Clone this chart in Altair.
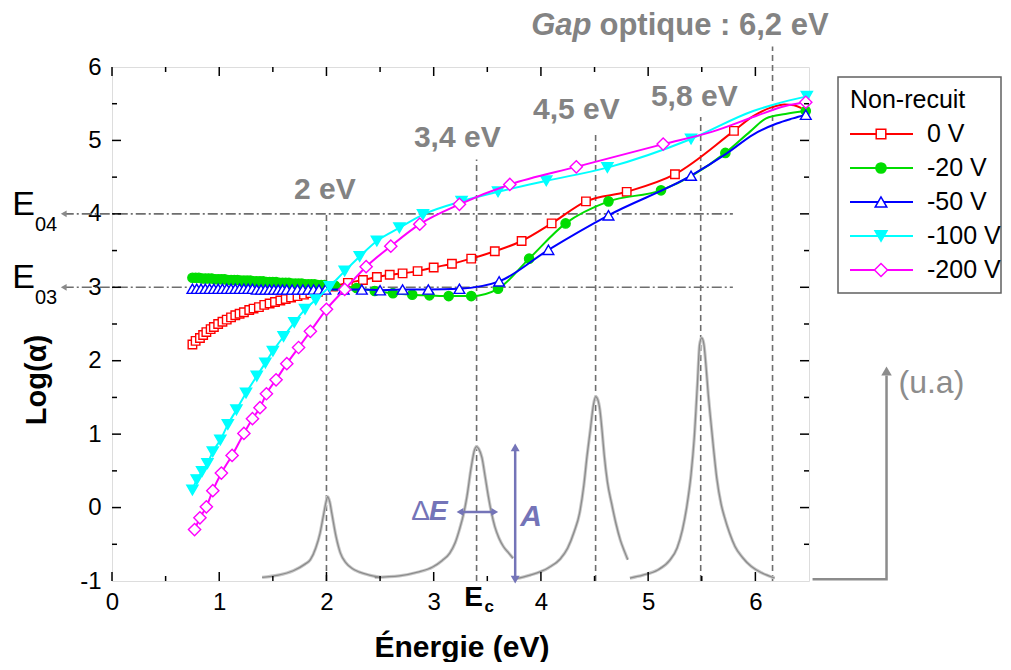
import altair as alt
import pandas as pd

FONT = "Liberation Sans"
W, H = 697, 514

# ---------------- data ----------------
series = ["0 V", "-20 V", "-50 V", "-100 V", "-200 V"]
colors = ["#ff0000", "#00dd00", "#0000ff", "#00ffff", "#ff00ff"]
shapes = ["square", "circle", "triangle-up", "triangle-down", "diamond"]
fills = ["white", "#00dd00", "white", "#00ffff", "white"]
sizes = [72, 85, 115, 125, 150]

# 0 V : marker points / extra line points
x_0 = [0.75, 0.78, 0.82, 0.85, 0.88, 0.92, 0.95, 0.99, 1.03, 1.07, 1.11, 1.15, 1.19, 1.23, 1.28,
       1.32, 1.37, 1.42, 1.47, 1.52, 1.57, 1.62, 1.67, 1.73, 1.79, 1.85, 1.92, 2.06, 2.20, 2.34,
       2.47, 2.59, 2.71, 2.85, 3.00, 3.17, 3.35, 3.57, 3.82, 4.10, 4.42, 4.80, 5.25, 5.80]
y_0 = [2.22, 2.27, 2.31, 2.35, 2.39, 2.43, 2.46, 2.50, 2.53, 2.56, 2.59, 2.62, 2.64, 2.66, 2.69,
       2.71, 2.73, 2.76, 2.78, 2.80, 2.82, 2.84, 2.86, 2.88, 2.90, 2.92, 2.94, 3.01, 3.06, 3.10,
       3.14, 3.17, 3.19, 3.22, 3.27, 3.32, 3.39, 3.49, 3.63, 3.87, 4.17, 4.30, 4.54, 5.13]
lx_0 = [5.98, 6.15, 6.27, 6.36, 6.43]
ly_0 = [5.33, 5.45, 5.49, 5.48, 5.44]

# -20 V
x_20 = [0.75, 0.78, 0.81, 0.84, 0.87, 0.90, 0.93, 0.96, 0.99, 1.02, 1.05, 1.08, 1.11, 1.14, 1.17,
        1.20, 1.23, 1.26, 1.29, 1.32, 1.35, 1.38, 1.41, 1.44, 1.47, 1.50, 1.53, 1.56, 1.59, 1.62,
        1.65, 1.68, 1.71, 1.74, 1.77, 1.80, 1.83, 1.86, 1.89, 1.92, 1.95, 1.98,
        2.08, 2.28, 2.45, 2.62, 2.80, 2.96, 3.14, 3.35, 3.60, 3.89, 4.23, 4.63, 5.12, 5.72, 6.47]
y_20 = [3.13, 3.13, 3.13, 3.12, 3.12, 3.12, 3.12, 3.11, 3.11, 3.11, 3.11, 3.10, 3.10, 3.10, 3.10,
        3.09, 3.09, 3.09, 3.09, 3.08, 3.08, 3.08, 3.08, 3.07, 3.07, 3.07, 3.07, 3.06, 3.06, 3.06,
        3.06, 3.05, 3.05, 3.05, 3.05, 3.04, 3.04, 3.04, 3.04, 3.03, 3.03, 3.03,
        3.02, 2.99, 2.95, 2.92, 2.90, 2.89, 2.88, 2.88, 2.98, 3.39, 3.87, 4.17, 4.32, 4.83, 5.40]
lx_20 = [5.95, 6.10, 6.28]
ly_20 = [5.12, 5.30, 5.36]

# -50 V
x_50 = [0.75, 0.79, 0.83, 0.87, 0.91, 0.95, 0.99, 1.03, 1.07, 1.11, 1.15, 1.19, 1.23, 1.27, 1.31,
        1.35, 1.39, 1.43, 1.47, 1.51, 1.55, 1.59, 1.63, 1.68, 1.73, 1.78, 1.83, 1.88, 1.93, 1.99,
        2.16, 2.33, 2.50, 2.71, 2.95, 3.24, 3.61, 4.07, 4.63, 5.40, 6.47]
y_50 = [2.98, 2.98, 2.98, 2.98, 2.98, 2.98, 2.98, 2.98, 2.98, 2.98, 2.98, 2.98, 2.98, 2.98, 2.98,
        2.97, 2.97, 2.97, 2.97, 2.97, 2.97, 2.97, 2.97, 2.97, 2.97, 2.97, 2.97, 2.97, 2.97, 2.97,
        2.97, 2.97, 2.96, 2.97, 2.97, 2.98, 3.08, 3.51, 3.98, 4.52, 5.35]
lx_50 = [5.73, 5.98, 6.20, 6.35]
ly_50 = [4.82, 5.08, 5.23, 5.30]

# -100 V
x_100 = [0.75, 0.79, 0.84, 0.89, 0.94, 1.01, 1.08, 1.16, 1.25, 1.35, 1.43, 1.50, 1.60, 1.70, 1.80,
         1.90, 2.03, 2.17, 2.31, 2.47, 2.68, 2.90, 3.26, 3.60, 4.05, 4.62, 5.40, 6.48]
y_100 = [0.24, 0.38, 0.49, 0.60, 0.76, 0.92, 1.13, 1.33, 1.56, 1.79, 1.97, 2.13, 2.33, 2.52, 2.70,
         2.83, 3.01, 3.22, 3.42, 3.63, 3.81, 3.99, 4.17, 4.30, 4.45, 4.63, 5.02, 5.60]
lx_100 = [5.98, 6.20]
ly_100 = [5.40, 5.50]

# -200 V
x_200 = [0.77, 0.82, 0.88, 0.94, 1.02, 1.12, 1.23, 1.31, 1.38, 1.44, 1.53, 1.63, 1.74, 1.85, 2.00,
         2.17, 2.37, 2.60, 2.87, 3.24, 3.71, 4.33, 5.14, 6.47]
y_200 = [-0.30, -0.14, 0.01, 0.23, 0.47, 0.71, 1.01, 1.21, 1.36, 1.55, 1.74, 1.96, 2.18, 2.40, 2.70,
         2.97, 3.28, 3.56, 3.86, 4.13, 4.40, 4.64, 4.95, 5.52]
lx_200 = [5.60, 6.00, 6.28]
ly_200 = [5.12, 5.33, 5.47]

# Lorentzian-like peaks (arbitrary units)
p1_x = [1.40, 1.55, 1.69, 1.80, 1.85, 1.90, 1.94, 1.97, 2.00, 2.01, 2.03, 2.05, 2.09, 2.13, 2.18,
        2.24, 2.31, 2.40, 2.50]
p1_y = [-0.95, -0.92, -0.86, -0.77, -0.71, -0.55, -0.35, -0.12, 0.10, 0.15, 0.08, -0.08, -0.40,
        -0.62, -0.75, -0.83, -0.88, -0.92, -0.95]
p2_x = [2.45, 2.68, 2.85, 2.99, 3.08, 3.15, 3.20, 3.24, 3.28, 3.31, 3.35, 3.38, 3.40, 3.42, 3.45,
        3.48, 3.51, 3.54, 3.57, 3.61, 3.65, 3.70, 3.74]
p2_y = [-0.95, -0.93, -0.88, -0.81, -0.72, -0.62, -0.48, -0.30, -0.08, 0.15, 0.55, 0.78, 0.83, 0.80,
        0.68, 0.42, 0.15, -0.08, -0.26, -0.42, -0.53, -0.62, -0.69]
p3_x = [3.76, 3.90, 4.07, 4.18, 4.25, 4.31, 4.36, 4.40, 4.43, 4.46, 4.49, 4.51, 4.53, 4.55, 4.57,
        4.59, 4.62, 4.66, 4.70, 4.74, 4.78, 4.81]
p3_y = [-0.97, -0.92, -0.82, -0.70, -0.55, -0.33, -0.08, 0.30, 0.70, 1.05, 1.40, 1.51, 1.47, 1.33,
        1.05, 0.72, 0.35, 0.05, -0.22, -0.44, -0.60, -0.71]
p4_x = [4.83, 4.95, 5.09, 5.20, 5.27, 5.32, 5.36, 5.40, 5.43, 5.46, 5.48, 5.50, 5.52, 5.54, 5.56,
        5.58, 5.61, 5.64, 5.68, 5.71, 5.76, 5.81, 5.88, 5.96, 6.06, 6.18]
p4_y = [-0.96, -0.92, -0.85, -0.72, -0.55, -0.30, 0.01, 0.45, 0.95, 1.70, 2.22, 2.31, 2.22, 1.92,
        1.55, 1.24, 0.80, 0.40, 0.05, -0.12, -0.35, -0.53, -0.68, -0.80, -0.89, -0.96]

# transitions (vertical dashed guides) and their upper ends
trans_x = [2.0, 3.4, 4.51, 5.49, 6.16]
trans_top = [4.0, 4.74, 5.11, 5.32, 6.28]
trans_labels = ["2 eV", "3,4 eV", "4,5 eV", "5,8 eV"]
trans_lab_x = [1.985, 3.22, 4.33, 5.43]
trans_lab_y = [4.33, 5.03, 5.41, 5.59]

# E03 / E04 levels
e_levels = [4, 3]
e_names = ["04", "03"]
e_x0, e_x1 = -0.45, 5.79

x_major = [0, 1, 2, 3, 4, 5, 6]
x_minor = [0.5, 1.5, 2.5, 3.5, 4.5, 5.5]
y_major = [0, 1, 2, 3, 4, 5]
y_minor = [-0.5, 0.5, 1.5, 2.5, 3.5, 4.5, 5.5]

# ---------------- scales / helpers ----------------
xscale = alt.Scale(domain=[0, 6.5], nice=False, zero=False)
yscale = alt.Scale(domain=[-1, 6], nice=False, zero=False)
xaxis = alt.Axis(values=x_major, ticks=False, domain=False, grid=False, title=None,
                 labelFont=FONT, labelFontSize=24, labelColor="black", labelPadding=9,
                 labelFlush=False, labelOverlap=False)
yaxis = alt.Axis(values=list(range(-1, 7)), ticks=False, domain=False, grid=False, title=None,
                 labelFont=FONT, labelFontSize=24, labelColor="black", labelPadding=11,
                 labelFlush=False, labelOverlap=False, labelExpr="'' + datum.value")


def X(f):
    return alt.X(f, type="quantitative", scale=xscale, axis=xaxis)


def Y(f):
    return alt.Y(f, type="quantitative", scale=yscale, axis=yaxis)


GRAY = "#6e6e6e"
LBL = "#838383"
PURP = "#7474b8"
layers = []

# vertical dashed guides
df_tr = pd.DataFrame({"x": trans_x, "y0": [-1] * len(trans_x), "y1": trans_top})
layers.append(alt.Chart(df_tr).mark_rule(color=GRAY, strokeWidth=1.6, strokeDash=[6, 4]).encode(
    x=X("x"), y=Y("y0"), y2="y1"))

# horizontal dash-dot E03/E04 lines with arrowheads
df_e = pd.DataFrame({"y": e_levels, "x0": [e_x0] * 2, "x1": [e_x1] * 2, "n": e_names})
layers.append(alt.Chart(df_e).mark_rule(color=GRAY, strokeWidth=1.6, strokeDash=[10, 3, 2, 3]).encode(
    x=X("x0"), x2="x1", y=Y("y")))
layers.append(alt.Chart(df_e).mark_point(shape="triangle-left", size=45, filled=True, color="#8a8a8a",
                                         opacity=1).encode(x=X("x0"), y=Y("y")))

# peaks curve
peak_rows = []
for sid, (px, py) in enumerate([(p1_x, p1_y), (p2_x, p2_y), (p3_x, p3_y), (p4_x, p4_y)]):
    for a, b in zip(px, py):
        peak_rows.append({"seg": sid, "x": a, "y": b})
df_pk = pd.DataFrame(peak_rows)
layers.append(alt.Chart(df_pk).mark_line(color="#c8c8c8", strokeWidth=3.2, interpolate="monotone").encode(
    x=X("x"), y=Y("y"), detail="seg:N"))
layers.append(alt.Chart(df_pk).mark_line(color="#8c8c8c", strokeWidth=1.3, interpolate="monotone").encode(
    x=X("x"), y=Y("y"), detail="seg:N"))

# data series
all_data = [(x_0, y_0, lx_0, ly_0), (x_20, y_20, lx_20, ly_20), (x_50, y_50, lx_50, ly_50),
            (x_100, y_100, lx_100, ly_100), (x_200, y_200, lx_200, ly_200)]
for i, (mx, my, lx, ly) in enumerate(all_data):
    rows = [{"series": series[i], "x": a, "y": b, "marker": True} for a, b in zip(mx, my)]
    rows += [{"series": series[i], "x": a, "y": b, "marker": False} for a, b in zip(lx, ly)]
    df = pd.DataFrame(rows).sort_values("x").reset_index(drop=True)
    layers.append(alt.Chart(df).mark_line(color=colors[i], strokeWidth=2, interpolate="monotone").encode(
        x=X("x"), y=Y("y")))
    layers.append(alt.Chart(df[df["marker"]]).mark_point(
        shape=shapes[i], size=sizes[i], filled=True, fill=fills[i], stroke=colors[i],
        strokeWidth=1.4, opacity=1).encode(x=X("x"), y=Y("y")))

# inward ticks
for vals, enc_axis, ln in [(x_major, "x", 9), (x_minor, "x", 5), (y_major, "y", 9), (y_minor, "y", 5)]:
    dft = pd.DataFrame({"v": vals})
    if enc_axis == "x":
        layers.append(alt.Chart(dft).mark_rule(color="black", strokeWidth=1.5).encode(
            x=X("v"), y=alt.value(H), y2=alt.value(H - ln)))
        layers.append(alt.Chart(dft).mark_rule(color="black", strokeWidth=1.5).encode(
            x=X("v"), y=alt.value(0), y2=alt.value(ln)))
    else:
        layers.append(alt.Chart(dft).mark_rule(color="black", strokeWidth=1.5).encode(
            y=Y("v"), x=alt.value(0), x2=alt.value(ln)))
        layers.append(alt.Chart(dft).mark_rule(color="black", strokeWidth=1.5).encode(
            y=Y("v"), x=alt.value(W), x2=alt.value(W - ln)))

# transition labels
df_tl = pd.DataFrame({"t": trans_labels, "x": trans_lab_x, "y": trans_lab_y})
layers.append(alt.Chart(df_tl).mark_text(font=FONT, fontSize=30, fontWeight="bold", color=LBL,
                                         align="center", baseline="middle").encode(
    x=X("x"), y=Y("y"), text="t:N"))

# Gap optique label
df_gap = pd.DataFrame({"x": [4.49], "y": [6.56], "a": ["Gap"], "b": ["optique : 6,2 eV"]})
layers.append(alt.Chart(df_gap).mark_text(font=FONT, fontSize=31, fontWeight="bold", fontStyle="italic",
                                          color=LBL, align="right", baseline="middle", dx=-2).encode(
    x=X("x"), y=Y("y"), text="a:N"))
layers.append(alt.Chart(df_gap).mark_text(font=FONT, fontSize=31, fontWeight="bold",
                                          color=LBL, align="left", baseline="middle", dx=6).encode(
    x=X("x"), y=Y("y"), text="b:N"))

# E04 / E03 labels
layers.append(alt.Chart(df_e).mark_text(font=FONT, fontSize=34, color="black", align="center",
                                        baseline="middle", dy=-9).encode(
    x=alt.value(23.5 - 112), y=Y("y"), text=alt.value("E")))
layers.append(alt.Chart(df_e).mark_text(font=FONT, fontSize=20, color="black", align="center",
                                        baseline="middle", dy=11).encode(
    x=alt.value(46 - 112), y=Y("y"), text="n:N"))

# Delta E and A annotations
df_de = pd.DataFrame({"x0": [3.245], "x1": [3.57], "y": [-0.06]})
layers.append(alt.Chart(df_de).mark_rule(color=PURP, strokeWidth=2.5).encode(x=X("x0"), x2="x1", y=Y("y")))
layers.append(alt.Chart(df_de).mark_point(shape="triangle-left", size=60, filled=True, color=PURP,
                                          opacity=1).encode(x=X("x0"), y=Y("y")))
layers.append(alt.Chart(df_de).mark_point(shape="triangle-right", size=60, filled=True, color=PURP,
                                          opacity=1).encode(x=X("x1"), y=Y("y")))
layers.append(alt.Chart(df_de).mark_text(font=FONT, fontSize=28, color=PURP, align="right",
                                         baseline="middle", dx=-30).encode(
    x=X("x0"), y=Y("y"), text=alt.value("Δ")))
layers.append(alt.Chart(df_de).mark_text(font=FONT, fontSize=28, fontWeight="bold", fontStyle="italic",
                                         color=PURP, align="left", baseline="middle", dx=-31).encode(
    x=X("x0"), y=Y("y"), text=alt.value("E")))

df_a = pd.DataFrame({"x": [3.76], "y0": [-0.98], "y1": [0.82], "ty": [-0.13]})
layers.append(alt.Chart(df_a).mark_rule(color=PURP, strokeWidth=2.5).encode(x=X("x"), y=Y("y0"), y2="y1"))
layers.append(alt.Chart(df_a).mark_point(shape="triangle-up", size=80, filled=True, color=PURP,
                                         opacity=1).encode(x=X("x"), y=Y("y1")))
layers.append(alt.Chart(df_a).mark_point(shape="triangle-down", size=80, filled=True, color=PURP,
                                         opacity=1).encode(x=X("x"), y=Y("y0")))
layers.append(alt.Chart(df_a).mark_text(font=FONT, fontSize=30, fontWeight="bold", fontStyle="italic",
                                        color=PURP, align="left", baseline="middle", dx=5).encode(
    x=X("x"), y=Y("ty"), text=alt.value("A")))

# E_c label under the axis
df_ec = pd.DataFrame({"x": [3.4]})
layers.append(alt.Chart(df_ec).mark_text(font=FONT, fontSize=28, fontWeight="bold", color="black",
                                         align="center", baseline="middle", dx=-3).encode(
    x=X("x"), y=alt.value(531), text=alt.value("E")))
layers.append(alt.Chart(df_ec).mark_text(font=FONT, fontSize=17, fontWeight="bold", color="black",
                                         align="left", baseline="middle", dx=8).encode(
    x=X("x"), y=alt.value(540), text=alt.value("c")))

# (u.a) arrow
ua_x = [6.533, 7.223, 7.223]
ua_y = [-0.975, -0.975, 1.80]
df_ua = pd.DataFrame({"x": ua_x, "y": ua_y, "o": [0, 1, 2]})
layers.append(alt.Chart(df_ua).mark_line(color="#8c8c8c", strokeWidth=2.5).encode(
    x=X("x"), y=Y("y"), order="o:Q"))
df_uah = pd.DataFrame({"x": [7.223], "y": [1.86], "t": ["(u.a)"]})
layers.append(alt.Chart(df_uah).mark_point(shape="triangle-up", size=110, filled=True, color="#8c8c8c",
                                           opacity=1).encode(x=X("x"), y=Y("y")))
layers.append(alt.Chart(df_uah).mark_text(font=FONT, fontSize=32, color="#8c8c8c", align="left",
                                          baseline="middle", dx=12).encode(
    x=X("x"), y=alt.value(383 - 67), text="t:N"))

# axis titles
one = pd.DataFrame({"t": ["Énergie (eV)"], "u": ["Log(α)"]})
layers.append(alt.Chart(one).mark_text(font=FONT, fontSize=30, fontWeight="bold", color="black",
                                       align="center", baseline="alphabetic").encode(
    x=alt.value(350), y=alt.value(590), text="t:N"))
layers.append(alt.Chart(one).mark_text(font=FONT, fontSize=29, fontWeight="bold", color="black",
                                       align="center", baseline="middle", angle=270).encode(
    x=alt.value(-75), y=alt.value(313), text="u:N"))

# legend (drawn by hand: line + marker + label)
box = pd.DataFrame({"t": ["Non-recuit"]})
layers.append(alt.Chart(box).mark_rect(fill="white", stroke="#606060", strokeWidth=1.5).encode(
    x=alt.value(726), x2=alt.value(889), y=alt.value(10), y2=alt.value(226)))
layers.append(alt.Chart(box).mark_text(font=FONT, fontSize=25, color="black", align="left",
                                       baseline="middle").encode(
    x=alt.value(738), y=alt.value(33), text="t:N"))
for i, name in enumerate(series):
    d = pd.DataFrame({"label": [name]})
    yr = 67 + 34 * i
    layers.append(alt.Chart(d).mark_rule(color=colors[i], strokeWidth=2).encode(
        x=alt.value(738), x2=alt.value(801), y=alt.value(yr)))
    layers.append(alt.Chart(d).mark_point(shape=shapes[i], size=sizes[i] + 20, filled=True, fill=fills[i],
                                          stroke=colors[i], strokeWidth=1.5, opacity=1).encode(
        x=alt.value(769), y=alt.value(yr)))
    layers.append(alt.Chart(d).mark_text(font=FONT, fontSize=25, color="black", align="left",
                                         baseline="middle").encode(
        x=alt.value(815), y=alt.value(yr), text="label:N"))

chart = alt.layer(*layers).properties(
    width=W, height=H,
    padding={"left": 104, "top": 59, "right": 194, "bottom": 81},
    autosize=alt.AutoSizeParams(type="none"),
    background="white",
).configure_view(stroke="black", strokeWidth=2).configure(font=FONT)

chart.save("out.html", embed_options={"renderer": "svg", "actions": False})
